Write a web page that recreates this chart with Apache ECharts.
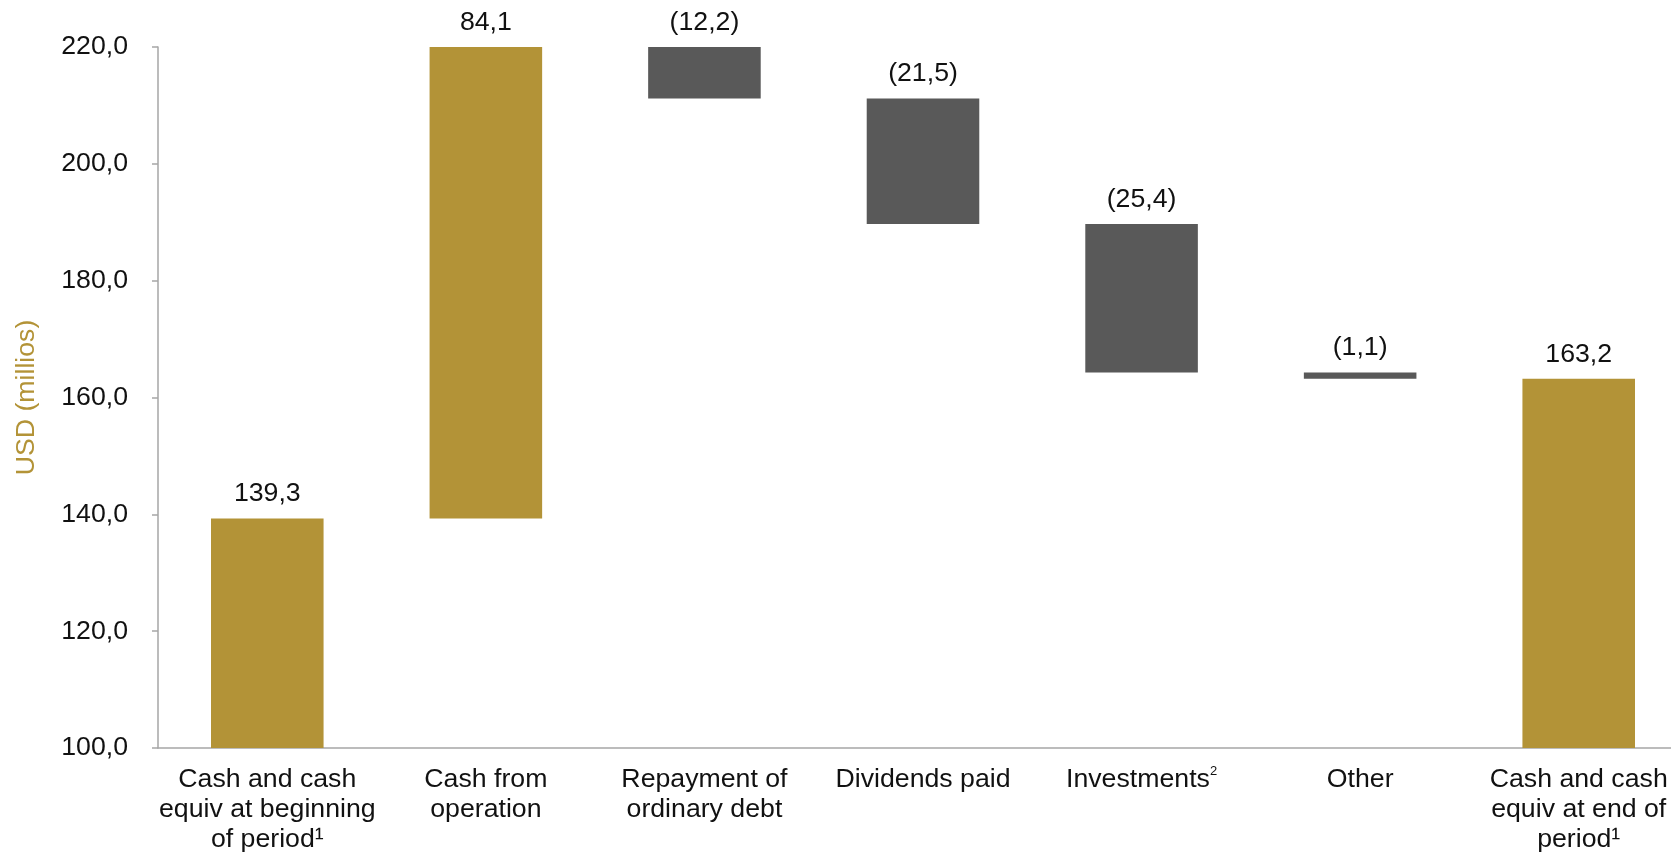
<!DOCTYPE html>
<html>
<head>
<meta charset="utf-8">
<title>Cash flow bridge</title>
<script src="https://cdn.jsdelivr.net/npm/echarts@6/dist/echarts.min.js"></script>
<style>
  html, body { margin: 0; padding: 0; background: #ffffff; overflow: hidden; width: 1671px; height: 855px; }
  /* the plot area runs slightly past the right edge of the page */
  #chart { width: 1688px; height: 855px; }
</style>
</head>
<body>
<div id="chart"></div>
<script>
// Bridge steps: opening balance, movements, closing balance (USD millions)
const categories = [
  'Cash and cash\nequiv at beginning\nof period\u00B9',
  'Cash from\noperation',
  'Repayment of\nordinary debt',
  'Dividends paid',
  'Investments{sup|2}',
  'Other',
  'Cash and cash\nequiv at end of\nperiod\u00B9'
];
const changes = [139.3, 84.1, -12.2, -21.5, -25.4, -1.1, 163.2];
const isTotal = [true, false, false, false, false, false, true];
const yTicks = { min: 100, max: 220, interval: 20 };

const GOLD = '#B39337';
const GREY = '#595959';
const FONT = '"Liberation Sans", Arial, sans-serif';
const FS = 26.7;

// Running balance gives the floating base of each movement bar
const baseValues = [];
const barValues = [];
let running = 0;
changes.forEach((v, i) => {
  if (isTotal[i]) {
    baseValues.push(0);
    barValues.push(v);
    running = v;
  } else if (v >= 0) {
    baseValues.push(running);
    barValues.push(v);
    running += v;
  } else {
    running += v;
    baseValues.push(running);
    barValues.push(-v);
  }
});

const fmt = (v) => v.toFixed(1).replace('.', ',');
const labelText = (i) => (changes[i] < 0 ? '(' + fmt(-changes[i]) + ')' : fmt(changes[i]));

const chart = echarts.init(document.getElementById('chart'), null, { renderer: 'canvas' });
chart.setOption({
  animation: false,
  backgroundColor: '#ffffff',
  textStyle: { fontFamily: FONT },
  grid: { left: 158, right: 0, top: 47, bottom: 107, containLabel: false },
  xAxis: {
    type: 'category',
    data: categories,
    axisLine: { lineStyle: { color: '#A6A6A6', width: 1.5 } },
    axisTick: { show: false },
    axisLabel: {
      interval: 0,
      color: '#111111',
      fontSize: FS,
      fontFamily: FONT,
      lineHeight: 30,
      margin: 17,
      rich: {
        sup: { fontSize: 13, verticalAlign: 'top', padding: [0, 0, 12, 0], color: '#111111', fontFamily: FONT }
      }
    }
  },
  yAxis: {
    type: 'value',
    min: yTicks.min,
    max: yTicks.max,
    interval: yTicks.interval,
    name: 'USD (millios)',
    nameLocation: 'middle',
    nameGap: 118,
    nameTextStyle: { color: GOLD, fontSize: FS, fontFamily: FONT },
    splitLine: { show: false },
    axisLine: { show: true, lineStyle: { color: '#A6A6A6', width: 1.5 } },
    axisTick: { show: true, length: 6, lineStyle: { color: '#A6A6A6', width: 1.5 } },
    axisLabel: {
      color: '#111111',
      fontSize: FS,
      fontFamily: FONT,
      margin: 30,
      formatter: (v) => fmt(v)
    }
  },
  series: [
    {
      name: 'base',
      type: 'bar',
      stack: 'bridge',
      data: baseValues,
      itemStyle: { color: 'rgba(0,0,0,0)' },
      emphasis: { disabled: true },
      silent: true,
      barWidth: '51.5%'
    },
    {
      name: 'movement',
      type: 'bar',
      stack: 'bridge',
      barWidth: '51.5%',
      data: barValues.map((v, i) => ({
        value: v,
        itemStyle: { color: (isTotal[i] || changes[i] >= 0) ? GOLD : GREY }
      })),
      label: {
        show: true,
        position: 'top',
        distance: 11,
        color: '#111111',
        fontSize: FS,
        fontFamily: FONT,
        formatter: (p) => labelText(p.dataIndex)
      }
    }
  ]
});
</script>
</body>
</html>
